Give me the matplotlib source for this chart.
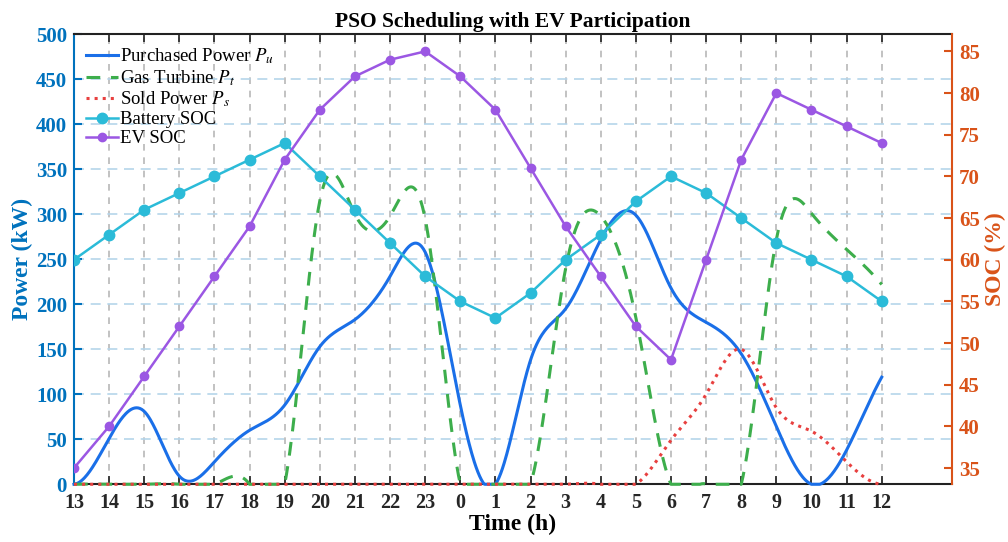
import numpy as np
import matplotlib
matplotlib.use('Agg')
import matplotlib.pyplot as plt
from matplotlib.lines import Line2D

plt.rcParams['font.family'] = ['Liberation Serif', 'DejaVu Serif']
plt.rcParams['mathtext.fontset'] = 'stix'

# hourly schedule, day starts at 13:00
hours = [13, 14, 15, 16, 17, 18, 19, 20, 21, 22, 23, 0, 1, 2, 3, 4, 5, 6, 7, 8, 9, 10, 11, 12]
purchased = [0, 51, 81, 9, 25, 60, 88, 153, 183, 231, 258, 88, 0, 138, 195, 272, 299, 218, 180, 145, 64, 0, 38, 119]
gas_turbine = [0, 0, 0, 0, 0, 0, 0, 315, 300, 298, 295, 0, 0, 0, 240, 298, 185, 0, 0, 0, 272, 301, 261, 222]
sold = [0, 0, 0, 0, 0, 0, 0, 0, 0, 0, 0, 0, 0, 0, 0, 0, 0, 49, 100, 150, 85, 59, 25, 0]
battery_soc = [60, 63, 66, 68, 70, 72, 74, 70, 66, 62, 58, 55, 53, 56, 60, 63, 67, 70, 68, 65, 62, 60, 58, 55]
ev_soc = [35, 40, 46, 52, 58, 64, 72, 78, 82, 84, 85, 82, 78, 71, 64, 58, 52, 48, 60, 72, 80, 78, 76, 74]

C_LEFT = '#0072BD'
C_RIGHT = '#D95319'


def spline_curve(y, n=40):
    """not-a-knot cubic spline on unit spacing, clipped at zero"""
    y = np.asarray(y, dtype=float)
    N = len(y)
    A = np.zeros((N, N))
    b = np.zeros(N)
    A[0, 0:3] = [1, -2, 1]
    A[-1, -3:] = [1, -2, 1]
    for i in range(1, N - 1):
        A[i, i - 1:i + 2] = [1, 4, 1]
        b[i] = 6 * (y[i + 1] - 2 * y[i] + y[i - 1])
    M = np.linalg.solve(A, b)
    xs, ys = [], []
    for i in range(N - 1):
        t = np.linspace(0, 1, n, endpoint=(i == N - 2))
        s = (M[i] * (1 - t) ** 3 / 6 + M[i + 1] * t ** 3 / 6
             + (y[i] - M[i] / 6) * (1 - t) + (y[i + 1] - M[i + 1] / 6) * t)
        xs.append(i + t)
        ys.append(s)
    return np.concatenate(xs), np.maximum(np.concatenate(ys), 0)


x = np.arange(len(hours))

fig = plt.figure(figsize=(10.08, 5.42), dpi=100)
ax = fig.add_axes([0.0734, 0.1065, 0.8710, 0.8302])
ax2 = ax.twinx()

c_pu = '#1A6FE8'
c_pt = '#3DAE4C'
c_ps = '#E8403F'
c_bat = '#2BBBD8'
c_ev = '#9B57E3'

xs, ys = spline_curve(purchased)
ax.plot(xs, ys, color=c_pu, lw=2.2, zorder=3, clip_on=False)
xs, ys = spline_curve(gas_turbine)
ax.plot(xs, ys, color=c_pt, lw=2.2, dashes=(4.5, 3.5), zorder=3, clip_on=False)
xs, ys = spline_curve(sold)
ax.plot(xs, ys, color=c_ps, lw=2.2, linestyle=':', zorder=3, clip_on=False)

ax2.plot(x, battery_soc, color=c_bat, lw=1.8, marker='o', ms=7.5)
ax2.plot(x, ev_soc, color=c_ev, lw=1.8, marker='o', ms=6)

ax.set_xlim(0, 25)
ax.set_ylim(0, 500)
ax2.set_ylim(33.05, 87.05)

ax.set_xticks(x)
ax.set_xticklabels([str(h) for h in hours], fontsize=14.5, fontweight='bold', color='#262626')
ax.set_yticks(np.arange(0, 501, 50))
ax.set_yticklabels([str(v) for v in range(0, 501, 50)], fontsize=15, fontweight='bold', color=C_LEFT)
ax2.set_yticks(np.arange(35, 86, 5))
ax2.set_yticklabels([str(v) for v in range(35, 86, 5)], fontsize=15, fontweight='bold', color=C_RIGHT)

ax.tick_params(axis='x', direction='in', top=True, length=6, width=1.2, color='#222222', pad=6)
ax.tick_params(axis='y', direction='in', length=6, width=1.5, color=C_LEFT, pad=5)
ax2.tick_params(axis='y', direction='in', length=6, width=1.5, color=C_RIGHT, pad=5)

# grid: grey vertical, light blue horizontal
ax.xaxis.grid(True, color='#b8b8b8', linestyle=(0, (4, 4)), lw=1.2)
ax.yaxis.grid(True, color='#b5d5ea', linestyle=(0, (6, 4)), lw=1.2)
ax.set_axisbelow(True)

for side in ['top', 'bottom']:
    ax.spines[side].set_color('#222222')
    ax.spines[side].set_linewidth(1.5)
ax.spines['left'].set_color(C_LEFT)
ax.spines['left'].set_linewidth(1.5)
ax.spines['right'].set_visible(False)
for side in ['top', 'bottom', 'left']:
    ax2.spines[side].set_visible(False)
ax2.spines['right'].set_color(C_RIGHT)
ax2.spines['right'].set_linewidth(1.5)

ax.set_xlabel('Time (h)', fontsize=17, fontweight='bold', labelpad=1)
ax.set_ylabel('Power (kW)', fontsize=17, fontweight='bold', color=C_LEFT, labelpad=2)
ax2.set_ylabel('SOC (%)', fontsize=17, fontweight='bold', color=C_RIGHT, labelpad=4)
ax.set_title('PSO Scheduling with EV Participation', fontsize=15.5, fontweight='bold', pad=5)

handles = [
    Line2D([], [], color=c_pu, lw=2.2),
    Line2D([], [], color=c_pt, lw=2.2, dashes=(4.5, 3.5)),
    Line2D([], [], color=c_ps, lw=2.2, linestyle=':'),
    Line2D([], [], color=c_bat, lw=1.8, marker='o', ms=7.5),
    Line2D([], [], color=c_ev, lw=1.8, marker='o', ms=6),
]
labels = ['Purchased Power $P_u$', 'Gas Turbine $P_t$', 'Sold Power $P_s$', 'Battery SOC', 'EV SOC']
leg = ax2.legend(handles, labels, loc='upper left', frameon=False, fontsize=13.5,
                 handlelength=1.7, handletextpad=0.1, labelspacing=0.1,
                 borderaxespad=0.25, bbox_to_anchor=(0.0, 1.0))

fig.savefig('out.png', dpi=100)
